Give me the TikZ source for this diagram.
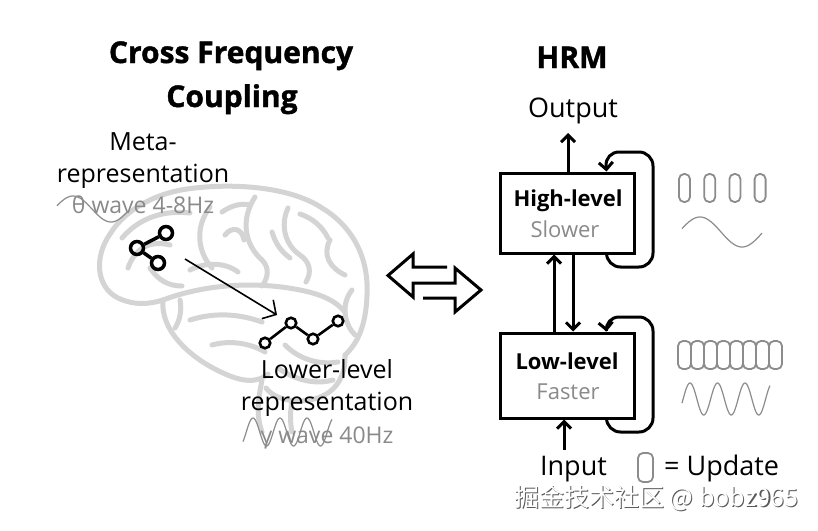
\documentclass[tikz,border=0pt]{standalone}
\usepackage{fontspec}
\setmainfont{Open Sans}
\newfontfamily\titlefont[BoldFeatures={FakeBold=1.3}]{Open Sans}
\newfontfamily\cjk{Noto Sans CJK SC}
\usetikzlibrary{arrows.meta,calc}
\definecolor{brainc}{HTML}{D4D4D4}
\definecolor{softgray}{HTML}{8A8A8A}
\definecolor{wavegray}{HTML}{8C8C8C}
\begin{document}
\begin{tikzpicture}[x=1pt,y=-1pt,
  titletext/.style={font=\titlefont\fontsize{30}{34}\selectfont\bfseries, anchor=base, inner sep=0},
  bodytext/.style={font=\fontsize{25}{30}\selectfont, anchor=base, inner sep=0},
  rbodytext/.style={font=\fontsize{27}{30}\selectfont, anchor=base, inner sep=0},
  graytext/.style={font=\fontsize{23}{26}\selectfont, anchor=base, inner sep=0, text=softgray},
  levelbox/.style={draw, line width=3pt, minimum width=134pt, align=center, inner sep=0},
  conn/.style={line width=3pt, -{Straight Barb[length=7pt,width=14pt,line width=3pt]}},
  brain/.style={draw=brainc, line width=5pt, line cap=round, line join=round},
  dotnode/.style={circle, draw, line width=3.5pt, minimum size=13pt, inner sep=0},
  smalldot/.style={circle, draw, line width=2.6pt, minimum size=10.5pt, inner sep=0},
  iconline/.style={line width=3.5pt},
  wave/.style={draw=wavegray, line width=1.2pt},
  capsule/.style={draw=wavegray, line width=1.8pt, rounded corners=5pt}
]
\path[use as bounding box, fill=white] (0,0) rectangle (818,530);

% ---------- brain ----------
\draw[brain] (110,234) .. controls (125,210) and (155,192) .. (195,188)
  .. controls (240,183) and (292,188) .. (322,208)
  .. controls (352,226) and (369,257) .. (367,295)
  .. controls (366,325) and (358,343) .. (345,355);
\draw[brain] (110,234) .. controls (94,257) and (96,287) .. (118,298)
  .. controls (135,306) and (150,304) .. (163,300);
\draw[brain] (163,300) .. controls (160,330) and (190,360) .. (230,376)
  .. controls (248,383) and (260,381) .. (268,374);
\draw[brain] (345,355) .. controls (346,382) and (330,400) .. (300,401)
  .. controls (284,401) and (272,396) .. (266,388);
\draw[brain] (262,380) .. controls (258,400) and (256,415) .. (262,432);
\draw[brain] (292,401) .. controls (290,412) and (290,422) .. (292,432);
% gyri
\draw[brain] (163,300) .. controls (200,286) and (250,280) .. (300,290)
  .. controls (320,294) and (335,300) .. (345,312);
\draw[brain] (255,197) .. controls (240,220) and (245,245) .. (262,260)
  .. controls (270,268) and (268,278) .. (262,286);
\draw[brain] (128,268) .. controls (135,248) and (150,240) .. (170,245);
\draw[brain] (122,238) .. controls (140,217) and (165,210) .. (190,213);
\draw[brain] (210,207) .. controls (196,225) and (196,250) .. (212,268);
\draw[brain] (222,212) .. controls (232,205) and (242,203) .. (250,205);
\draw[brain] (190,270) .. controls (205,262) and (225,262) .. (238,272);
\draw[brain] (225,235) .. controls (232,226) and (242,228) .. (244,240);
\draw[brain] (288,208) .. controls (280,225) and (285,245) .. (300,255)
  .. controls (310,262) and (312,272) .. (306,282);
\draw[brain] (300,214) .. controls (312,218) and (322,226) .. (328,238);
\draw[brain] (330,240) .. controls (322,255) and (330,268) .. (345,275);
\draw[brain] (352,290) .. controls (340,305) and (345,325) .. (355,335);
\draw[brain] (272,232) .. controls (276,245) and (282,252) .. (290,258);
\draw[brain] (190,320) .. controls (215,312) and (240,314) .. (262,322);
\draw[brain] (212,345) .. controls (230,340) and (250,343) .. (265,352);
\draw[brain] (285,345) .. controls (300,360) and (320,365) .. (338,362);
\draw[brain] (278,368) .. controls (295,380) and (315,385) .. (333,380);
\draw[brain] (150,268) .. controls (158,280) and (168,286) .. (182,286);
\draw[brain] (180,300) .. controls (182,310) and (180,320) .. (175,328);

% ---------- left texts ----------
\node[titletext] (t1) at (231,63) {Cross Frequency};
\node[titletext] (t2) at (232,107) {Coupling};
\node[bodytext] (meta1) at (143,150) {Meta-};
\node[bodytext] (meta2) at (143,182) {representation};
\node[graytext] (theta) at (143,213) {θ wave 4-8Hz};
\draw[wave] plot[domain=57:128, samples=60, smooth] (\x, {209-13*cos((\x-73)/76*360)});

\node[bodytext] (low1) at (327,378) {Lower-level};
\node[bodytext] (low2) at (327,410) {representation};
\node[graytext] (gamma) at (327,443) {γ wave 40Hz};
\draw[wave] plot[domain=243:332, samples=90, smooth] (\x, {432-14*cos((\x-253)/27*360)});

% ---------- icons ----------
\node[dotnode] (m1) at (166,233) {};
\node[dotnode] (m2) at (137,248) {};
\node[dotnode] (m3) at (158,263) {};
\draw[iconline] (m1) -- (m2) -- (m3);

\node[smalldot] (l1) at (265,343) {};
\node[smalldot] (l2) at (291,323) {};
\node[smalldot] (l3) at (313,339) {};
\node[smalldot] (l4) at (338,321) {};
\draw[line width=2.6pt] (l1) -- (l2) -- (l3) -- (l4);

\coordinate (a1) at (185,259);
\coordinate (a2) at (277,315);
\draw[line width=1.6pt, -{Straight Barb[length=10pt,width=22pt,line width=1.6pt]}] (a1) -- (a2);

% ---------- middle double arrow ----------
\draw[line width=3pt, line join=miter] (447,267) -- (413,267) -- (413,254) -- (388,275.5)
  -- (413,297) -- (413,283) -- (455,283) -- (455,268) -- (481,290)
  -- (455,312) -- (455,298) -- (423,298);

% ---------- HRM ----------
\node[titletext] (hrm) at (572,68) {HRM};
\node[rbodytext] (output) at (573,117) {Output};
\node[levelbox, minimum height=80pt] (high) at (567,213) {};
\node[levelbox, minimum height=85pt] (low) at (567,375.5) {};
\node[anchor=base, inner sep=0, font=\fontsize{22}{26}\selectfont\bfseries] (hl) at (568,206) {High-level};
\node[anchor=base, inner sep=0, font=\fontsize{22}{26}\selectfont, text=softgray] (hs) at (565,237) {Slower};
\node[anchor=base, inner sep=0, font=\fontsize{22}{26}\selectfont\bfseries] (ll) at (567,369) {Low-level};
\node[anchor=base, inner sep=0, font=\fontsize{22}{26}\selectfont, text=softgray] (lf) at (568,399) {Faster};

\coordinate (outtip) at (568,133);
\draw[conn] ([xshift=1pt]high.north) -- (outtip);
\draw[conn] ([xshift=-13pt]low.north) -- ([xshift=-13pt]high.south);
\draw[conn] ([xshift=6pt]high.south) -- ([xshift=6pt]low.north);
\draw[conn, rounded corners=14pt] ([xshift=-29pt]high.south east) |- (653,267) |- (605,152) -- ([xshift=-29pt]high.north east);
\draw[conn, rounded corners=14pt] ([xshift=-29pt]low.south east) |- (653,432) |- (605,317) -- ([xshift=-29pt]low.north east);
\coordinate (intail) at (564,450);
\draw[conn] (intail) -- ([xshift=-3pt]low.south);

\node[rbodytext] (input) at (573.5,475) {Input};
\node[capsule, minimum width=15pt, minimum height=29pt, inner sep=0] (leg) at (645.5,467.5) {};
\node[rbodytext, anchor=base west] (upd) at (664,475) {= Update};

% ---------- waves right ----------
\foreach \i in {0,1,2,3} {
  \node[capsule, minimum width=11pt, minimum height=28pt, inner sep=0] (hc\i) at ({684.5+25.2*\i},188) {};
}
\draw[wave] plot[domain=682:762, samples=80, smooth] (\x, {232-15*cos((\x-700)/84*360)});
\foreach \i in {0,...,7} {
  \node[capsule, minimum width=13pt, minimum height=28pt, inner sep=0] (lc\i) at ({684.5+13*\i},355) {};
}
\draw[wave] plot[domain=682:770, samples=120, smooth] (\x, {399-16*cos((\x-690)/27.5*360)});

% ---------- watermark ----------
\node[anchor=center, inner sep=0, text=gray!70!black, font=\cjk\fontsize{25}{28}\selectfont] (wm0) at (657.5,499) {掘金技术社区 @ bobz965};
\node[anchor=center, inner sep=0, text=white, font=\cjk\fontsize{25}{28}\selectfont] (wm) at (656.3,497.8) {掘金技术社区 @ bobz965};
\end{tikzpicture}
\end{document}
